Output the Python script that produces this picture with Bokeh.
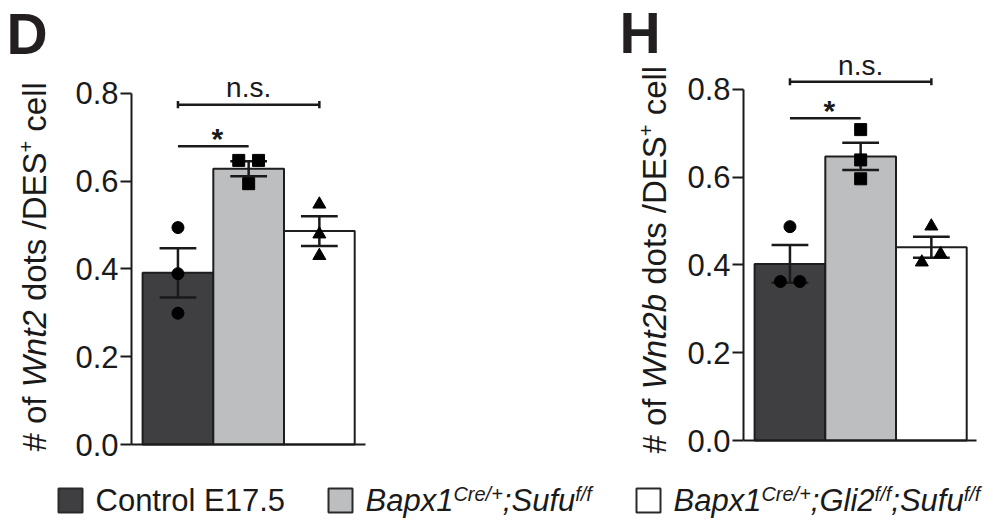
import math
from bokeh.plotting import figure
from bokeh.models import Range1d, FixedTicker, PrintfTickFormatter
from bokeh.layouts import column, row
from bokeh.embed import file_html
from bokeh.resources import INLINE
from bokeh.core.properties import value

FONT = "Liberation Sans"
INK = "#1a1a1a"
MID = 0.347   # distance (in em) from the alphabetic baseline to the middle of the em box

# ---------------- data ----------------
groups = ["Control E17.5", "Bapx1Cre/+;Sufuf/f", "Bapx1Cre/+;Gli2f/f;Sufuf/f"]
legend_parts = [
    [("Control E17.5", "normal")],
    [("Bapx1", "italic"), ("Cre/+", "sup"), (";", "italic"), ("Sufu", "italic"), ("f/f", "sup")],
    [("Bapx1", "italic"), ("Cre/+", "sup"), (";", "italic"), ("Gli2", "italic"), ("f/f", "sup"),
     (";", "italic"), ("Sufu", "italic"), ("f/f", "sup")],
]
bar_colors = ["#3f3f41", "#bdbec0", "#ffffff"]
markers = ["circle", "square", "triangle"]
y_ticks = [0.0, 0.2, 0.4, 0.6, 0.8]

# Panel D (Wnt2)
d_mean = [0.391, 0.628, 0.486]
d_sem = [0.056, 0.017, 0.034]
d_points = [[0.494, 0.389, 0.299], [0.647, 0.647, 0.594], [0.547, 0.479, 0.430]]
d_jitter = [[0, 0, 0], [-0.14, 0.14, 0], [0, 0, 0]]
d_sig = [("*", 0, 1, 0.679), ("n.s.", 0, 2, 0.774)]
d_ylabel = [("# of ", "normal"), ("Wnt2", "italic"), (" dots /DES", "normal"), ("+", "sup"), (" cell", "normal")]

# Panel H (Wnt2b)
h_mean = [0.402, 0.647, 0.440]
h_sem = [0.043, 0.031, 0.024]
h_points = [[0.487, 0.362, 0.362], [0.708, 0.639, 0.596], [0.488, 0.425, 0.406]]
h_jitter = [[0, -0.135, 0.14], [0, 0, 0], [0, 0.13, -0.135]]
h_sig = [("*", 0, 1, 0.734), ("n.s.", 0, 2, 0.817)]
h_ylabel = [("# of ", "normal"), ("Wnt2b", "italic"), (" dots /DES", "normal"), ("+", "sup"), (" cell", "normal")]

# Arial / Liberation Sans advance widths (1/1000 em)
ADV = {' ': 278, '#': 556, 'o': 556, 'f': 278, 'W': 944, 'n': 556, 't': 278, '2': 556, 'b': 556,
       'd': 556, 's': 500, '/': 278, 'D': 722, 'E': 667, 'S': 667, '+': 584, 'c': 500, 'e': 556,
       'l': 222, 'C': 722, 'r': 333, '1': 556, '7': 556, '.': 278, '5': 556, 'B': 667, 'a': 556,
       'p': 556, 'x': 500, ';': 278, 'u': 556, 'G': 778, 'i': 222}


def tw(s, fs):
    return sum(ADV.get(c, 556) for c in s) * fs / 1000.0


PPX = 70.7     # pixels per category unit
PPY = 439.1    # pixels per y unit
X0 = -1.51     # x value at the left edge of each panel
ROW_H = 470


def make_panel(letter, mean, sem, pts, jitter, sig, ylabel, width, zero_px, axis_end,
               lab_px, lab_py, t_px, t_py):
    xr = Range1d(X0, X0 + width / PPX)
    yr = Range1d((zero_px - ROW_H) / PPY, zero_px / PPY)
    p = figure(width=width, height=ROW_H, x_range=xr, y_range=yr,
               output_backend="svg", toolbar_location=None, title=None, min_border=0)
    p.outline_line_color = None
    p.grid.grid_line_color = None
    p.background_fill_color = "white"
    p.border_fill_color = "white"

    def X(px):
        return X0 + px / PPX

    def Y(py):
        return (zero_px - py) / PPY

    xs = [i + 1 for i in range(len(groups))]
    p.vbar(x=xs, top=mean, width=1.0, bottom=0, fill_color=bar_colors,
           line_color="#1e1e1e", line_width=2)

    lo = [m - s for m, s in zip(mean, sem)]
    hi = [m + s for m, s in zip(mean, sem)]
    cap = 0.26
    p.segment(x0=xs, y0=lo, x1=xs, y1=hi, line_color=INK, line_width=2.5)
    p.segment(x0=[x - cap for x in xs], y0=hi, x1=[x + cap for x in xs], y1=hi,
              line_color=INK, line_width=2.5)
    p.segment(x0=[x - cap for x in xs], y0=lo, x1=[x + cap for x in xs], y1=lo,
              line_color=INK, line_width=2.5)

    for i in range(len(groups)):
        p.scatter(x=[xs[i] + j for j in jitter[i]], y=pts[i], marker=markers[i],
                  size=13 if markers[i] == "triangle" else 12, color="black")

    for txt, a, b, yv in sig:
        p.segment(x0=[xs[a]], y0=[yv], x1=[xs[b]], y1=[yv], line_color=INK, line_width=2.5)
        if txt == "n.s.":
            fs = 28
            p.segment(x0=[xs[a], xs[b]], y0=[yv - 0.008] * 2, x1=[xs[a], xs[b]],
                      y1=[yv + 0.008] * 2, line_color=INK, line_width=2.5)
            p.text(x=[(xs[a] + xs[b]) / 2], y=[yv + (7 + MID * fs) / PPY], text=[txt],
                   text_align="center", text_baseline="middle", text_font=value(FONT),
                   text_font_size=f"{fs}px", text_color=INK)
        else:
            fs = 30
            p.text(x=[(xs[a] + xs[b]) / 2 + 4 / PPX], y=[yv + (-3 + MID * fs) / PPY], text=[txt],
                   text_align="center", text_baseline="middle", text_font=value(FONT),
                   text_font_size=f"{fs}px", text_font_style="bold", text_color=INK)

    # axes drawn at fixed data locations inside the frame
    ax_x = 0.5 - 11 / PPX
    p.yaxis.fixed_location = ax_x
    p.yaxis.ticker = FixedTicker(ticks=y_ticks)
    p.yaxis.formatter = PrintfTickFormatter(format="%.1f")
    p.yaxis.bounds = (0, 0.8)
    p.yaxis.major_label_text_font = FONT
    p.yaxis.major_label_text_font_size = "31px"
    p.yaxis.major_label_text_color = INK
    p.yaxis.major_tick_out = 11
    p.yaxis.major_tick_in = 0
    p.yaxis.major_label_standoff = 2
    p.yaxis.minor_tick_line_color = None
    p.yaxis.axis_line_width = 2
    p.yaxis.major_tick_line_width = 2
    p.yaxis.axis_line_color = INK
    p.yaxis.major_tick_line_color = INK

    p.xaxis.fixed_location = 0
    p.xaxis.bounds = (ax_x, axis_end)
    p.xaxis.ticker = FixedTicker(ticks=[])
    p.xaxis.major_label_text_font_size = "0px"
    p.xaxis.major_tick_out = 0
    p.xaxis.major_tick_in = 0
    p.xaxis.minor_tick_line_color = None
    p.xaxis.axis_line_width = 2
    p.xaxis.axis_line_color = INK

    # rotated y-axis title built from styled pieces (glyph tops point left)
    fs, sup_fs, raise_px = 33, 20, 12.5
    adv = 0.0
    for txt, style in ylabel:
        size = sup_fs if style == "sup" else fs
        lead = len(txt) - len(txt.lstrip(" "))
        bx = lab_px - raise_px if style == "sup" else lab_px
        p.text(x=[X(bx - MID * size)], y=[Y(lab_py - adv - tw(" " * lead, size))],
               text=[txt.strip()], angle=math.pi / 2, text_align="left", text_baseline="middle",
               text_font=value(FONT), text_font_size=f"{size}px",
               text_font_style="italic" if style == "italic" else "normal", text_color=INK)
        adv += tw(txt, size)

    # panel letter
    tfs = 57
    p.text(x=[X(t_px)], y=[Y(t_py - MID * tfs)], text=[letter], text_align="left",
           text_baseline="middle", text_font=value(FONT), text_font_size=f"{tfs}px",
           text_font_style="bold", text_color="#231f20")
    return p


pD = make_panel("D", d_mean, d_sem, d_points, d_jitter, d_sig, d_ylabel,
                612, 444, 3.5 + 11 / PPX, 45, 451, 6, 53)
pH = make_panel("H", h_mean, h_sem, h_points, h_jitter, h_sig, h_ylabel,
                382, 440, 3.5 + 10 / PPX, 53, 453, 7, 52)

# ---------------- legend ----------------
LEG_H = 52
pL = figure(width=994, height=LEG_H, x_range=Range1d(0, 994), y_range=Range1d(LEG_H, 0),
            output_backend="svg", toolbar_location=None, title=None,
            x_axis_type=None, y_axis_type=None, min_border=0)
pL.outline_line_color = None
pL.grid.grid_line_color = None
pL.border_fill_color = "white"

swatch_x = [58, 328, 636]
LFS, LSUP = 31, 20
pL.quad(left=swatch_x, right=[x + 24 for x in swatch_x], bottom=[42] * 3, top=[18] * 3,
        fill_color=bar_colors, line_color="#2a2a2a", line_width=2)
for k, parts in enumerate(legend_parts):
    x = swatch_x[k] + 24 + 13
    for txt, style in parts:
        size = LSUP if style == "sup" else LFS
        yb = 41 - (11 if style == "sup" else 0)
        pL.text(x=[x], y=[yb - MID * size], text=[txt], text_align="left", text_baseline="middle",
                text_font=value(FONT), text_font_size=f"{size}px",
                text_font_style="normal" if k == 0 else "italic", text_color=INK)
        x += tw(txt, size)

layout = column(row(pD, pH), pL)
open("out.html", "w").write(file_html(layout, INLINE))
